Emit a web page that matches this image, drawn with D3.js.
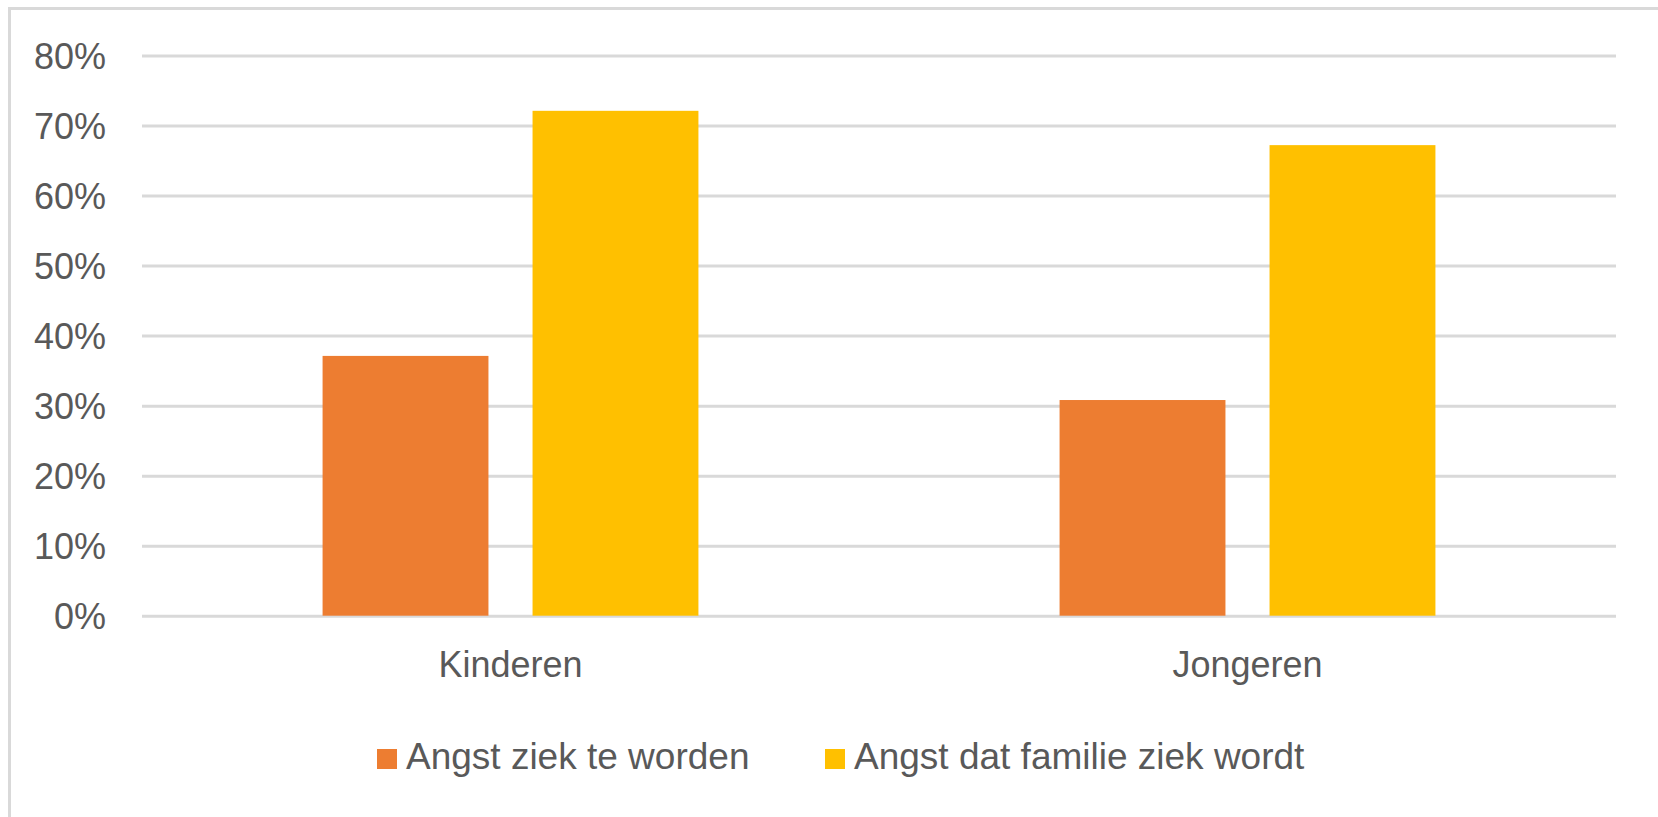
<!DOCTYPE html>
<html>
<head>
<meta charset="utf-8">
<script src="https://cdn.jsdelivr.net/npm/d3@7"></script>
<style>
  html, body { margin: 0; padding: 0; background: #fff; }
  svg text { font-family: "Liberation Sans", Arial, sans-serif; fill: #595959; }
</style>
</head>
<body>
<svg id="chart" width="1658" height="817"></svg>
<script>
// data
var categories = ["Kinderen", "Jongeren"];
var series = ["Angst ziek te worden", "Angst dat familie ziek wordt"];
var angstZiek = [0.371, 0.308];
var angstFamilie = [0.721, 0.672];
var yTicks = [0, 0.1, 0.2, 0.3, 0.4, 0.5, 0.6, 0.7, 0.8];
var colors = ["#ED7D31", "#FFC000"];

var values = [angstZiek, angstFamilie];

var svg = d3.select("#chart");

var plot = { left: 142, right: 1616, top: 55.5, bottom: 615.7 };

// outer frame (only top and left edges are visible in the crop)
svg.append("path")
  .attr("d", "M9.5,1658 L9.5,8.5 L1700,8.5")
  .attr("fill", "none")
  .attr("stroke", "#d9d9d9")
  .attr("stroke-width", 3);

var x0 = d3.scaleBand()
  .domain(categories)
  .range([plot.left, plot.right])
  .padding(0);

var x1 = d3.scaleBand()
  .domain(series)
  .range([0, x0.bandwidth()])
  .paddingInner(0.21)
  .paddingOuter(0.86);

var y = d3.scaleLinear()
  .domain([0, 0.8])
  .range([plot.bottom, plot.top]);

// y axis with gridlines
var yAxis = svg.append("g")
  .attr("transform", "translate(" + plot.left + ",0)")
  .call(d3.axisLeft(y)
    .tickValues(yTicks)
    .tickFormat(d3.format(".0%"))
    .tickSize(-(plot.right - plot.left))
    .tickPadding(36));

yAxis.select(".domain").remove();
yAxis.selectAll(".tick line")
  .attr("stroke", "#d9d9d9")
  .attr("stroke-width", 3);
yAxis.selectAll(".tick text")
  .attr("font-size", 36)
  .attr("dy", "0.35em");

// bars
var groups = svg.selectAll(".cat")
  .data(categories)
  .enter()
  .append("g")
  .attr("class", "cat")
  .attr("transform", d => "translate(" + x0(d) + ",0)");

groups.selectAll("rect")
  .data((d, i) => series.map((s, j) => ({ s: s, v: values[j][i], j: j })))
  .enter()
  .append("rect")
  .attr("x", d => x1(d.s))
  .attr("width", x1.bandwidth())
  .attr("y", d => y(d.v))
  .attr("height", d => y(0) - y(d.v))
  .attr("fill", d => colors[d.j]);

// category axis
var xAxis = svg.append("g")
  .attr("transform", "translate(0," + plot.bottom + ")")
  .call(d3.axisBottom(x0).tickSize(0).tickPadding(36));

xAxis.select(".domain").remove();
xAxis.selectAll(".tick text").attr("font-size", 36);

// legend
var legendX = [377, 825];
var legend = svg.selectAll(".legend")
  .data(series)
  .enter()
  .append("g")
  .attr("class", "legend")
  .attr("transform", (d, i) => "translate(" + legendX[i] + ",749)");

legend.append("rect")
  .attr("width", 20)
  .attr("height", 20)
  .attr("fill", (d, i) => colors[i]);

legend.append("text")
  .attr("x", 29)
  .attr("y", 20)
  .attr("font-size", 37)
  .text(d => d);
</script>
</body>
</html>
